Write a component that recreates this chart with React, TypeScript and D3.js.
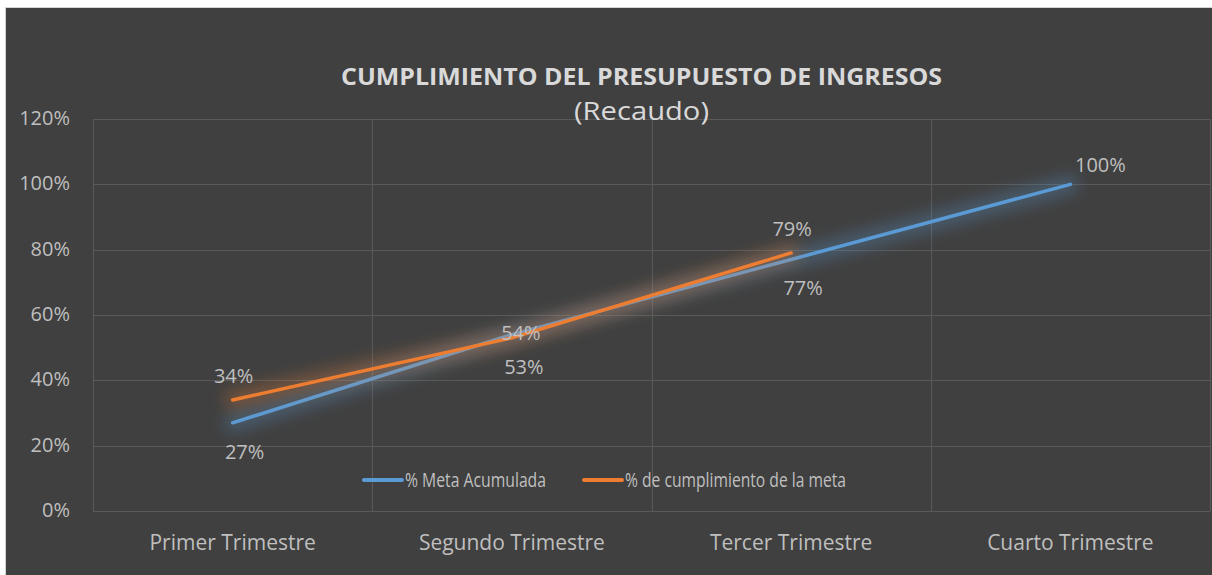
import React from "react";
import * as d3 from "d3";

const categories = ["Primer Trimestre", "Segundo Trimestre", "Tercer Trimestre", "Cuarto Trimestre"];
const metaAcumulada = [0.27, 0.54, 0.77, 1.0];
const cumplimiento = [0.34, 0.53, 0.79];
const yTicks = [0, 0.2, 0.4, 0.6, 0.8, 1.0, 1.2];
const metaPlacement = ["below", "center", "below", "right"];
const cumplPlacement = ["above", "below", "above"];

const W = 1212, H = 575;
const plot = { left: 93, right: 1210, top: 119, bottom: 511 };
const FONT = "'Open Sans', Lato, sans-serif";
const TXT = "#bfbfbf";

const offsets: Record<string, [number, number]> = {
  above: [1, -24],
  below: [12, 29],
  center: [9, -2],
  right: [30, -19],
};

export default function App() {
  const x = d3.scaleBand<string>().domain(categories).range([plot.left, plot.right]).padding(0);
  const y = d3.scaleLinear().domain([0, 1.2]).range([plot.bottom, plot.top]);
  const cx = (i: number) => (x(categories[i]) as number) + x.bandwidth() / 2;
  const line = d3.line<number>().x((_, i) => cx(i)).y((d) => y(d));
  const fmt = d3.format(".0%");

  const series = [
    { name: "% Meta Acumulada", values: metaAcumulada, color: "#5b9bd5", place: metaPlacement, glow: "glowB", lx: 362, tl: 141 },
    { name: "% de cumplimiento de la meta", values: cumplimiento, color: "#ed7d31", place: cumplPlacement, glow: "glowO", lx: 582, tl: 221 },
  ];

  return (
    <svg width={W} height={H} style={{ position: "absolute", left: 0, top: 0 }} fontFamily={FONT}>
      <defs>
        <filter id="glowB" x="-20%" y="-50%" width="140%" height="200%">
          <feGaussianBlur stdDeviation="8" />
        </filter>
        <filter id="glowO" x="-20%" y="-50%" width="140%" height="200%">
          <feGaussianBlur stdDeviation="8" />
        </filter>
      </defs>
      <rect x={0} y={0} width={W} height={H} fill="#ffffff" />
      <rect x={5.5} y={7.5} width={W} height={H} fill="#404040" stroke="#d4d4d4" strokeWidth={1} />

      {/* gridlines */}
      {yTicks.map((t) => (
        <line key={"h" + t} x1={plot.left} x2={plot.right} y1={Math.round(y(t)) + 0.5} y2={Math.round(y(t)) + 0.5} stroke="#595959" strokeWidth={1} />
      ))}
      {[...categories.map((c) => x(c) as number), plot.right].map((v, i) => (
        <line key={"v" + i} x1={Math.round(v) + 0.5} x2={Math.round(v) + 0.5} y1={plot.top} y2={plot.bottom} stroke="#595959" strokeWidth={1} />
      ))}

      {/* y labels */}
      {yTicks.map((t) => (
        <text key={"yl" + t} x={70} y={y(t)} dy="0.3em" textAnchor="end" fontSize={20} fill={TXT}>
          {fmt(t)}
        </text>
      ))}
      {/* x labels */}
      {categories.map((c, i) => (
        <text key={c} x={cx(i)} y={550} textAnchor="middle" fontSize={21} fill={TXT}>
          {c}
        </text>
      ))}

      {/* title */}
      <text x={641.5} y={85} textAnchor="middle" fontSize={24} fontWeight="bold" fill="#d9d9d9" textLength={601} lengthAdjust="spacingAndGlyphs">
        CUMPLIMIENTO DEL PRESUPUESTO DE INGRESOS
      </text>
      <text x={641.5} y={120} textAnchor="middle" fontSize={25} fill="#d9d9d9" textLength={135} lengthAdjust="spacingAndGlyphs">
        (Recaudo)
      </text>

      {/* lines */}
      {series.map((s) => (
        <g key={s.name}>
          <path d={line(s.values) || ""} fill="none" stroke={s.color} strokeWidth={16} strokeOpacity={0.35} filter={`url(#${s.glow})`} strokeLinecap="round" />
          <path d={line(s.values) || ""} fill="none" stroke={s.color} strokeWidth={3.5} strokeLinecap="round" strokeLinejoin="round" />
        </g>
      ))}

      {/* data labels */}
      {series.map((s) =>
        s.values.map((v, i) => {
          const [dx, dy] = offsets[s.place[i]];
          return (
            <text key={s.name + i} x={cx(i) + dx} y={y(v) + dy} dy="0.35em" textAnchor="middle" fontSize={20} fill={TXT}>
              {fmt(v)}
            </text>
          );
        })
      )}

      {/* legend */}
      {series.map((s, i) => (
        <g key={"lg" + i}>
          <line x1={s.lx + 2} x2={s.lx + 40} y1={480} y2={480} stroke={s.color} strokeWidth={4} strokeLinecap="round" />
          <text x={s.lx + 43} y={480} dy="0.35em" fontSize={20} fill={TXT} textLength={s.tl} lengthAdjust="spacingAndGlyphs">
            {s.name}
          </text>
        </g>
      ))}
    </svg>
  );
}
